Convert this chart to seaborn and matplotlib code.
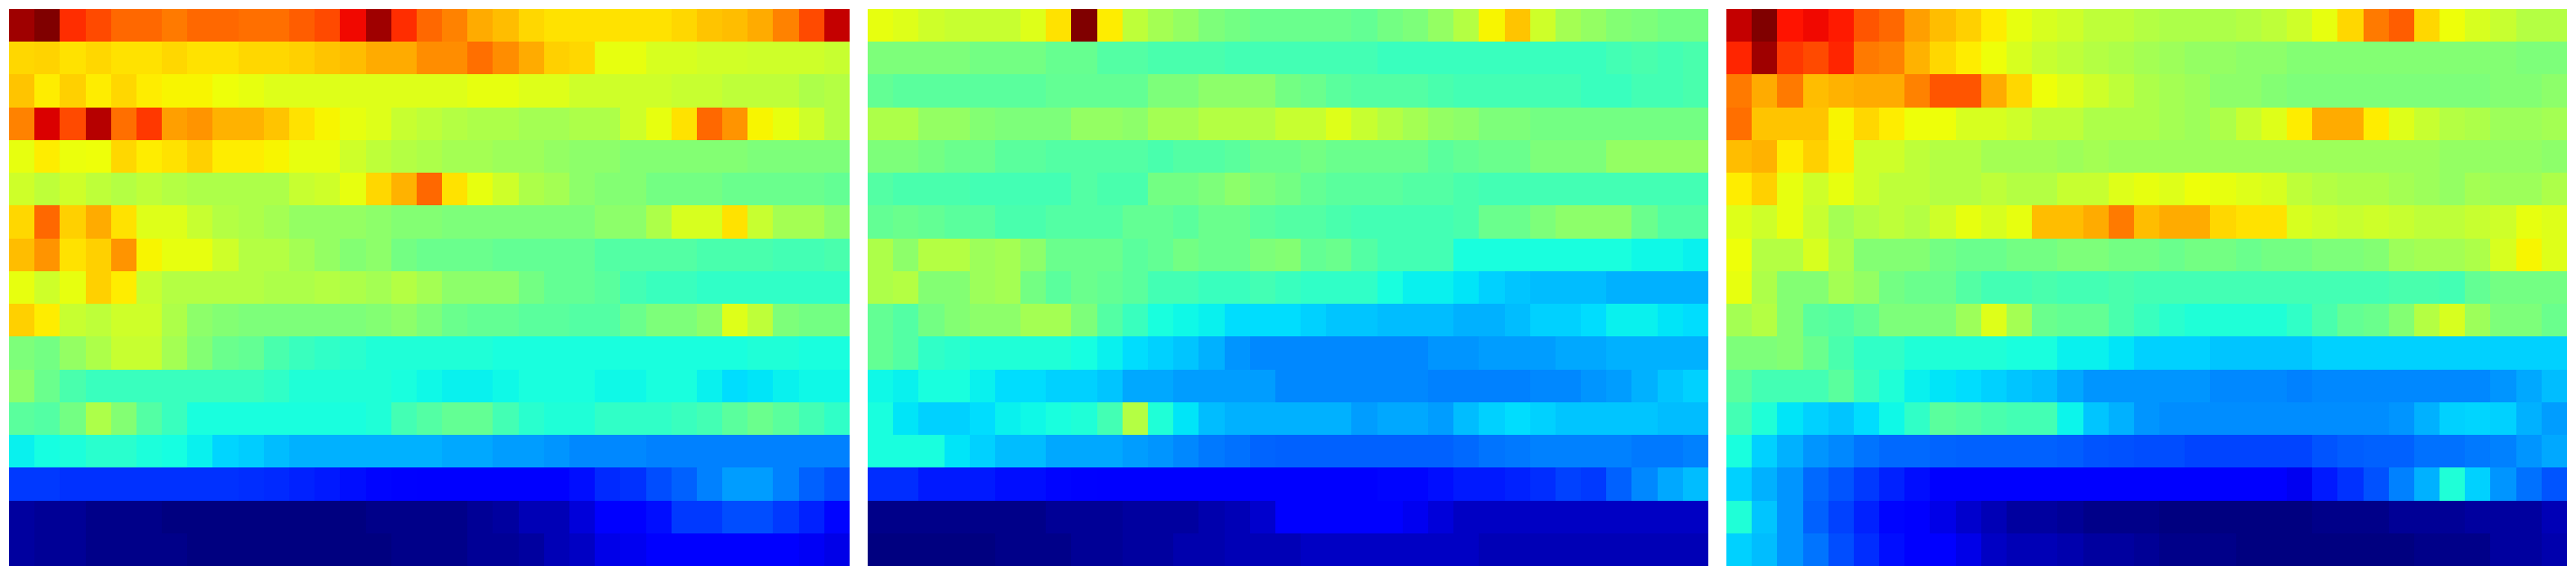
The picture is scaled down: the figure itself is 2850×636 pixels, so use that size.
import numpy as np
import matplotlib
matplotlib.use('Agg')
import matplotlib.pyplot as plt
import seaborn as sns

# values, in percent of the colour range
left_rows = [
    [97,100,86,83,80,80,78,80,80,79,79,81,83,90,97,86,80,77,73,71,68,67,67,67,67,67,68,70,71,73,77,83,94],
    [68,68.5,67,68,67,67,68,67,67,68,68,69,70,71,73,73,76,76,79,76,73,69,68,63,63,61,61,60.5,60.5,60,60,60,59],
    [70,66,69,66,68,66,65,65,64,63,62,62,62,62,62,62,62,62,63,63,62,62,60,60,60,60,59,59,58,58,58,56,57],
    [77,92,83,95,79,85,74,75,72,72,70,67,65,63,62,59,58,57,56,56,55,55,56,56,60,63,67,80,75,65,63,60,57],
    [63,66,63.5,64,68,66,67,69,66,66,65,63,63,60,58,57,56,55,55,54,54,53,52,52,51,51,51,51,51,50,50,50,50],
    [60,58,60,58,57,58,57,56,56,56,56,59,60,63,68,72,80,67,63,60,56,55,52,51,51,49,49,49,48,48,48,48,47],
    [68,80,69,73,67,62,62,59,57,56,55,53,53,53,52,51,51,50,50,50,50,50,50,52,52,56,61,61,67,59,55,55,52],
    [71,75,67,69,75,65,63,63,60,57,57,55,53,51,52,49,48,48,48,47,47,47,47,45,45,45,45,44,44,44,43,43,44],
    [63,60,63,69,66,59,57,57,57,57,56,56,57,56,55,57,55,52,52,52,49,47,47,46,43,42,42,41,41,41,41,41,41],
    [69,66,59,58,60,60,56,52,51,50,50,50,50,50,51,52,50,48,47,47,46,46,45,45,48,50,50,52,62,58,50,49,49],
    [50,49,53,56,59,59,55,51,48,47,44,42,41,40,39,39,39,39,39,38,38,38,38,38,38,38,38,38,38,39,39,38,38],
    [52,48,44,42,42,42,42,42,42,42,41,39,39,39,39,38,37,36,36,37,38,38,38,37,37,38,38,36,34,35,36,37,37],
    [46,45,49,56,51,45,42,38,38,38,38,38,38,38,39,43,45,47,47,43,40,39,39,41,41,41,42,43,46,48,46,43,41],
    [36,37.5,38.5,40,40,38.5,37.5,36,33.5,32.5,31,30,30,30,30,30,30,29,29,28,28,27,26,26,26,25,25,25,25,25,25,25,25],
    [18,18,17.5,17.5,17.5,17.5,17.5,17.5,17.5,17,16.5,16,15,14,13,12.5,12,11,11,11,11,12,14,16.5,17.5,20,22,25,28,28,25,22,20],
    [3,2,2,1,1,1,0,0,0,0,0,0,0,0,1,1,1,1,2,3,5,5,8,12,12,14,18,18,20,20,18,16,13],
    [3,2,2,1,1,1,1,0,0,0,0,0,0,0,0,1,1,1,2,2,3,5,6,9,10,11,12,12,12,12,12,10.5,9],
]

middle_rows = [
    [63,62,60,59,59,59,62,67,100,66,58,55,53,50,49,48,48,48,48,47,49,50,53,57,65,70,60,55,53,51,50,49,49],
    [50,50,50,50,49,49,49,47.5,47.5,45,45,44,44,44,43,43,43,43,43,43,42,42,42,42,42,42,42,42,42,43,44,43,44],
    [47,46,46,46,46,46,46,47,47,47,47,50,50,52,52,52,49,48,46,45,45,45,44,43,43,43,43,43,42,42,43,43,44],
    [56,56,53,53,51,50,50,50,53,53,52,55,55,57,57,57,59,59,62,59,57,55,53,52,50,50,49,49,49,49,49,49,49],
    [50,50,49,48,48,46,46,45,45,45,45,44,45,45,46,48,48,49,48,48,48,48,46,47,48,48,50,50,50,53,53,53,53],
    [45,44,44,44,43,43,43,43,45,44,44,49,49,50,52,50,49,47,46,46,46,45,45,44,43,43,43,43,43,43,43,43,43],
    [47,48,47,46,46,44,44,45,45,45,47,47,46,48,48,46,45,45,44,43,43,43,43,44,48,48,50,52,52,52,48,45,45],
    [56,52,57,57,54,55,52,48,48,48,46,47,49,48,48,50,51,47,48,45,43,43,43,38,38,38,38,38,38,38,37,37,36],
    [56,57,51,51,54,55,49,46,48,47,46,43,43,42,42,43,42,41,41,41,38,36,36,35,33,32,31,31,31,30,30,30,30],
    [47,45,49,51,52,52,55,55,50,45,42,38,37,36,34,34,34,33,32,32,31,31,31,30,30,31,33,33,34,36,36,35,34],
    [47,45,41,40,39,39,39,39,37.5,36,34,33,32,30,27,26,26,26,26,26,26,26,27,27,28,28,28,29,29,30,30,30,30],
    [37,36,38,38,36,34,34,33,33,32,29,29,28,28,28,28,26,26,26,26,26,26,25,25,25,25,26,26,27,28,30,32,33],
    [38,35,33,33,34,36,37,38,39,43,57,39,35,31,30,30,30,30,30,28,29,29,28,31,33,34,33,32,32,32,32,31,31],
    [38,38,38,35,33,31,31,29,29,29,28,27,26,24.5,23.5,22.5,22,22,22,22,22,22,22,23,24,24.5,25,25,25,25,24.5,24.5,25],
    [17,17,15,15,15,14,14,13,12.5,12,12,12,12,12,12,11.5,11.5,11.5,12,12,13,13,14,15,15,16,17,19,18,22,26,29,31],
    [1,1,1,1,1,1,1,2,2,2,3,3,3,4,5,7,11,11,11,11,11,10,8,6,6,6,6,6,6,6,6,6,6],
    [0,0,0,0,0,1,1,1,2,2,3,3,4,4,5,5,5,6,6,6,6,6,6,6,5,5,5,5,5,5,5,5,5],
]

right_rows = [
    [94,100,89,90,88,82,80,74,71,69,66,63,61,60,58,58,57,56,56,56,57,58,60,63,68,78,81,68,64,61,59,57,57],
    [87,97,85,83,87,78,77,72,68,66,64,61,59,58,57,56,55,54,53,53,52,52,51,51,51,51,51,51,51,51,51,50,50],
    [78,73,78,71,72,73,73,77,82,82,73,68,64,62,60,58,56,55,54,52,52,51,50,50,50,50,50,50,50,50,51,51,52],
    [79,70,70,70,65,68,66,64,64,61,61,60,58,58,56,56,56,55,54,56,59,62,66,73,73,66,62,59,57,56,54,54,55],
    [71,72,66,69,66,60,60,58,57,57,55,55,55,54,55,54,54,54,54,54,54,54,54,54,54,54,54,54,53,53,53,53,52],
    [66,69,63,60,63,60,58,58,57,57,58,57,57,59,59,62,63,62,64,63,62,61,58,57,56,56,55,54,53,55,54,54,56],
    [62,60,63,59,55,57,58,57,60,63,61,63,71,71,73,78,71,73,73,68,67,67,61,60,59,60,59,58,58,59,60,63,62],
    [64,57,57,61,56,51,51,51,49,48,48,49,49,50,50,49,49,48,49,49,48,49,49,50,50,51,54,55,55,56,61,65,62],
    [63,56,51,51,55,53,49,48,48,45,43,43,44,43,43,44,43,43,43,43,43,43,43,43,43,43,44,44,43,47,49,49,49],
    [55,57,51,46,45,47,50,50,50,54,62,55,48,47,47,44,42,40,39,39,39,39,41,44,47,48,51,57,61,54,50,50,48],
    [50,50,51,48,44,41,41,39,39,39,39,38,38,36,36,35,33,33,33,32,32,32,32,33,33,33,33,33,33,33,33,33,33],
    [46,43,43,43,46,42,39,36,35,34,33,32,31,29,27,27,27,27,27,26,26,26,25,26,26,26,26,26,26,26,27,29,31],
    [43,39,35,33,32,34,37,41,46,45,44,43,43,36.5,32,30,27,26.5,26.5,26.5,26.5,26.5,26.5,26.5,26.5,26.5,27,30,33,33.5,33,30,28],
    [38,33,30,27,26,24,23,23,22.5,22,22,22,22,21.5,21,20.5,20,20,19.5,19.5,19.5,19.5,19.5,21,21.5,22,22,23.5,23.5,24.5,25,27,29],
    [33,30,27,23,21,18,16,14,12,11,11,11,11,11,11,11,11,11,11,11,11,11,10,15,17.5,20.5,25,30,39,33,27,23.5,21],
    [39,32,27,22,19,16,13,11,9,7,5,3,3,2,1,1,1,0,0,0,0,0,0,1,1,1,2,2,2,3,3,3,5],
    [33,31,27,24,20,17,14,11,11,9,6,5,5,4,3,3,2,1,1,1,0,0,0,0,0,0,0,1,1,1,3,3,4],
]

fig = plt.figure(figsize=(28.5, 6.36), dpi=100, facecolor='white')

panels = [(10, left_rows), (960, middle_rows), (1910, right_rows)]
for x0, rows in panels:
    ax = fig.add_axes([x0 / 2850, 10 / 636, 930 / 2850, 616 / 636])
    sns.heatmap(np.array(rows), cmap='jet', vmin=0, vmax=100, cbar=False,
                xticklabels=False, yticklabels=False, ax=ax)

fig.savefig('out.png', dpi=100)
